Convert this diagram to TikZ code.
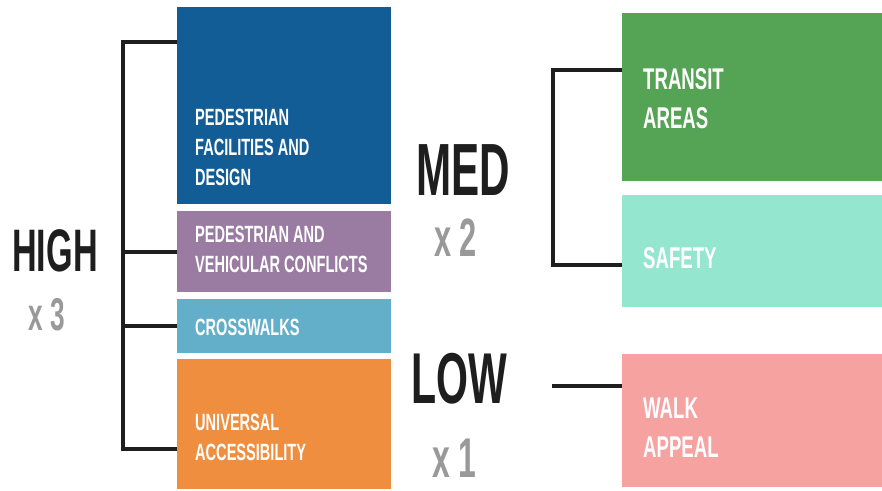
\documentclass[tikz,border=0pt]{standalone}
\usepackage{fontspec}
\usetikzlibrary{positioning}
\newfontfamily\boxfont[FakeStretch=0.62]{Liberation Sans}
\newfontfamily\rankfont[FakeStretch=0.57]{Liberation Sans}
\definecolor{facblue}{HTML}{135D96}
\definecolor{confpurple}{HTML}{9A7BA2}
\definecolor{walkteal}{HTML}{63AEC8}
\definecolor{accorange}{HTML}{EF8E3F}
\definecolor{transgreen}{HTML}{55A354}
\definecolor{safemint}{HTML}{95E6CF}
\definecolor{appealpink}{HTML}{F6A2A1}
\definecolor{rankblack}{HTML}{1E1E1E}
\definecolor{rankgray}{HTML}{999999}

\begin{document}
\begin{tikzpicture}[x=1pt, y=-1pt,
    box/.style={rectangle, inner sep=0pt, anchor=north west},
    lefttext/.style={anchor=base west, inner sep=0pt, align=left, text=white,
      font=\boxfont\bfseries\fontsize{23.5}{29.7}\selectfont},
    righttext/.style={anchor=base west, inner sep=0pt, align=left, text=white,
      font=\boxfont\bfseries\fontsize{30}{38.5}\selectfont},
    rank/.style={anchor=base west, inner sep=0pt, text=rankblack},
    factor/.style={anchor=base west, inner sep=0pt, text=rankgray},
    bar/.style={draw=rankblack, line width=3.6pt}]
  \useasboundingbox (0,0) rectangle (882,490);

  % high weight group
  \node[box, fill=facblue, minimum width=214pt, minimum height=197pt] (facilities) at (177,7) {};
  \node[box, fill=confpurple, minimum width=214pt, minimum height=81pt] (conflicts) at (177,211) {};
  \node[box, fill=walkteal, minimum width=214pt, minimum height=54pt] (crosswalks) at (177,299) {};
  \node[box, fill=accorange, minimum width=214pt, minimum height=130pt] (access) at (177,359) {};

  % base of a multi-line node sits on its last line
  \node[lefttext] (facilitiestext) at (195,185) {PEDESTRIAN\\FACILITIES AND\\DESIGN};
  \node[lefttext] (conflictstext) at (195,272) {PEDESTRIAN AND\\VEHICULAR CONFLICTS};
  \node[lefttext] (crosswalkstext) at (195,335) {CROSSWALKS};
  \node[lefttext] (accesstext) at (195,460) {UNIVERSAL\\ACCESSIBILITY};

  % medium and low weight groups
  \node[box, fill=transgreen, minimum width=260pt, minimum height=168pt] (transit) at (622,13) {};
  \node[box, fill=safemint, minimum width=260pt, minimum height=112pt] (safety) at (622,195) {};
  \node[box, fill=appealpink, minimum width=260pt, minimum height=133pt] (appeal) at (622,354) {};

  \node[righttext] (transittext) at (643,128) {TRANSIT\\AREAS};
  \node[righttext] (safetytext) at (643,268) {SAFETY};
  \node[righttext] (appealtext) at (643,457) {WALK\\APPEAL};

  % ranks
  \node[rank, font=\rankfont\bfseries\fontsize{60}{60}\selectfont] (high) at (12,271) {HIGH};
  \node[factor, font=\rankfont\bfseries\fontsize{46}{46}\selectfont] (highx) at (28,330) {x 3};
  \node[rank, font=\rankfont\bfseries\fontsize{74}{74}\selectfont] (med) at (416,195) {MED};
  \node[factor, font=\rankfont\bfseries\fontsize{54}{54}\selectfont] (medx) at (434,256) {x 2};
  \node[rank, font=\rankfont\bfseries\fontsize{72}{72}\selectfont] (low) at (411,403) {LOW};
  \node[factor, font=\rankfont\bfseries\fontsize{56}{56}\selectfont] (lowx) at (432,477) {x 1};

  % brackets
  \coordinate (hightop) at (123,42);
  \coordinate (highbot) at (123,449);
  \coordinate (medtop) at (553,70);
  \coordinate (medbot) at (553,265);
  \coordinate (lowend) at (552,386);

  \draw[bar] (facilities.west |- hightop) -- (hightop) -- (highbot) -- (access.west |- highbot);
  \draw[bar] (conflicts.west) -- (conflicts.west -| hightop);
  \draw[bar] (crosswalks.west) -- (crosswalks.west -| hightop);
  \draw[bar] (transit.west |- medtop) -- (medtop) -- (medbot) -- (safety.west |- medbot);
  \draw[bar] (lowend) -- (appeal.west |- lowend);
\end{tikzpicture}
\end{document}
